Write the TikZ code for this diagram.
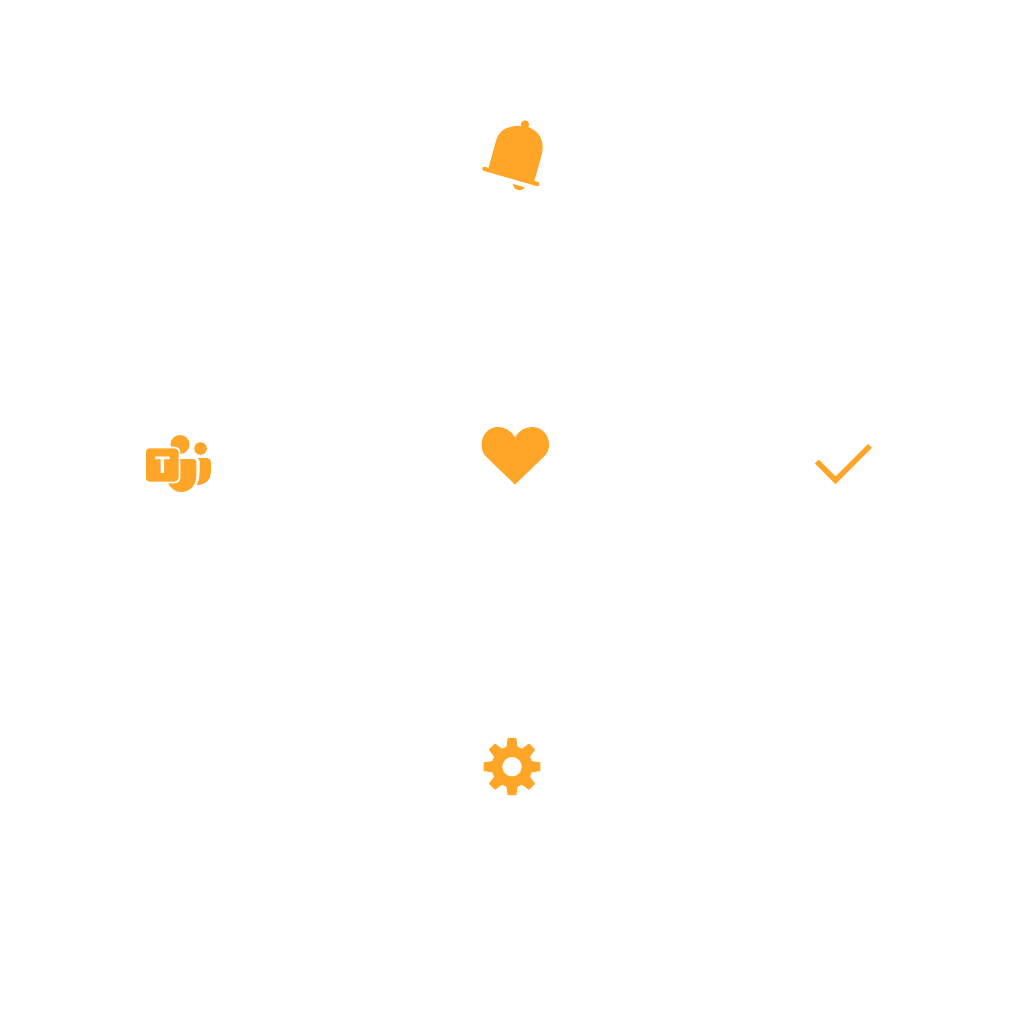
\documentclass[tikz,border=0pt]{standalone}
\usepackage{fontspec}
\setmainfont{Liberation Sans}
\definecolor{iconorange}{HTML}{FFA629}
\tikzset{
  icon/.style={fill=iconorange,draw=none},
  knockout/.style={draw=white,line width=1.7pt,fill=iconorange},
  tick/.style={draw=iconorange,line width=5.4pt,line cap=butt,line join=miter}
}
\begin{document}
\begin{tikzpicture}[x=1pt,y=-1pt]
\useasboundingbox (0,0) rectangle (1024,1024);
\fill[white] (0,0) rectangle (1024,1024);
% bell
\fill[icon] (525,124.5) circle (4.2);
\fill[icon] (488,170) -- (496,141) .. controls (498,133) and (503,129.5) .. (507,128)
  .. controls (514,125.5) and (522,125) .. (528,127)
  .. controls (537,130) and (543,138) .. (542.6,148)
  .. controls (542.5,151) and (542,154) .. (541,157) -- (533.5,184) -- cycle;
\draw[iconorange,line width=4.2pt,line cap=round] (484.3,168.8) -- (537.3,184);
\fill[icon] (513,184) .. controls (513.5,191) and (522,192) .. (525,187.5) -- cycle;
% heart
\fill[icon] (515,437.5) .. controls (518.5,431) and (525,427) .. (532,427)
  .. controls (542,427) and (549,435) .. (549,445)
  .. controls (549,450) and (547,454) .. (543.5,457)
  -- (515,484.5) -- (486.5,457)
  .. controls (483.5,454) and (481.5,450) .. (481.5,445)
  .. controls (481.5,435) and (488.5,427) .. (498,427)
  .. controls (505,427) and (511.5,431) .. (515,437.5) -- cycle;
% teams
\fill[icon] (180,444.5) circle (9.5);
\fill[icon] (200.5,448.5) circle (6.3);
\fill[icon] (197.5,458.2) -- (207,458.2) .. controls (209.5,458.2) and (210.8,459.5) .. (210.8,461.5)
  -- (210.8,473) .. controls (210.8,480) and (205,485) .. (197,485) -- (197,484.5)
  .. controls (198.5,481) and (199.5,478) .. (199.5,474) -- (199.5,461) .. controls (199.5,459.5) and (198.8,458.5) .. (197.5,458.2) -- cycle;
\filldraw[fill=iconorange,draw=white,line width=1.3pt] (175,458.2) -- (193,458.2) .. controls (195.5,458.2) and (197,459.5) .. (197,461.5)
  -- (197,476) .. controls (197,486) and (190,492.8) .. (181,492.8)
  .. controls (175,492.8) and (170,489) .. (167,483) -- cycle;
\draw[knockout] (144.9,451.5) .. controls (144.9,449) and (147,447.5) .. (149,447.5)
  -- (175,447.5) .. controls (177.5,447.5) and (179.4,449.5) .. (179.4,451.5)
  -- (179.4,478.5) .. controls (179.4,480.5) and (177.5,482.5) .. (175,482.5)
  -- (149,482.5) .. controls (147,482.5) and (144.9,481) .. (144.9,478.5) -- cycle;
\node[text=white,font=\fontsize{24}{24}\selectfont\bfseries,inner sep=0pt] (teamsT) at (162.5,465) {T};
% check
\draw[tick] (816.8,461.5) -- (835.5,480.3) -- (870,445.8);
% gear
\begin{scope}[shift={(512,766.7)}]
\fill[icon,even odd rule]
  (-22.5:20.5)
  \foreach \a in {0,45,...,315} {
    -- (\a-16:20.5) -- (\a-8.5:28.8) -- (\a+8.5:28.8) -- (\a+16:20.5) -- (\a+22.5:20.5)
  } -- cycle
  (0,0) circle (9.8);
\end{scope}
\end{tikzpicture}
\end{document}
